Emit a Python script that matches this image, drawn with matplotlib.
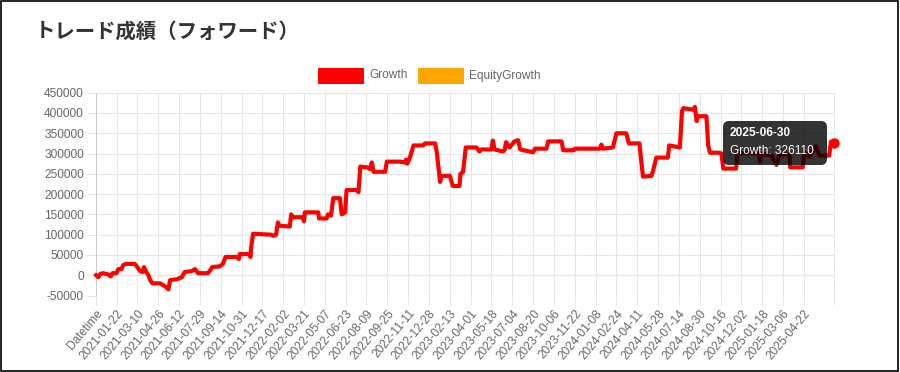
import pandas as pd
import matplotlib
matplotlib.use("Agg")
import matplotlib.pyplot as plt
from matplotlib.patches import FancyBboxPatch, Rectangle
from matplotlib.transforms import IdentityTransform

plt.rcParams['font.family'] = ['Liberation Sans', 'DejaVu Sans']

# first category slot is the csv header "Datetime", then one slot per day
first_slot = '2020-12-06'
last_slot = '2025-06-30'

tick_labels = ['Datetime', '2021-01-22', '2021-03-10', '2021-04-26', '2021-06-12',
               '2021-07-29', '2021-09-14', '2021-10-31', '2021-12-17', '2022-02-02',
               '2022-03-21', '2022-05-07', '2022-06-23', '2022-08-09', '2022-09-25',
               '2022-11-11', '2022-12-28', '2023-02-13', '2023-04-01', '2023-05-18',
               '2023-07-04', '2023-08-20', '2023-10-06', '2023-11-22', '2024-01-08',
               '2024-02-24', '2024-04-11', '2024-05-28', '2024-07-14', '2024-08-30',
               '2024-10-16', '2024-12-02', '2025-01-18', '2025-03-06', '2025-04-22']

y_ticks = [-50000, 0, 50000, 100000, 150000, 200000, 250000, 300000, 350000, 400000, 450000]

# Growth (date where the value changes, value)
growth_dates = [
    '2020-12-07', '2020-12-12', '2020-12-16', '2020-12-23', '2021-01-03', '2021-01-09',
    '2021-01-13', '2021-01-22', '2021-01-26', '2021-02-02', '2021-02-06', '2021-02-13',
    '2021-03-04', '2021-03-10', '2021-03-16', '2021-03-22', '2021-03-25', '2021-03-30',
    '2021-04-04', '2021-04-08', '2021-04-13', '2021-04-30', '2021-05-08', '2021-05-15',
    '2021-05-19', '2021-05-23', '2021-06-07', '2021-06-18', '2021-06-25', '2021-07-10',
    '2021-07-18', '2021-07-25', '2021-08-16', '2021-08-20', '2021-08-26', '2021-09-12',
    '2021-09-19', '2021-09-25', '2021-10-21', '2021-10-25', '2021-10-27', '2021-11-19',
    '2021-11-20', '2021-11-22', '2021-11-26', '2022-01-06', '2022-01-11', '2022-01-17',
    '2022-01-21', '2022-01-25', '2022-02-17', '2022-02-20', '2022-02-24', '2022-03-17',
    '2022-03-21', '2022-03-23', '2022-04-22', '2022-04-24', '2022-05-11', '2022-05-14',
    '2022-05-21', '2022-05-26', '2022-06-10', '2022-06-14', '2022-06-22', '2022-06-25',
    '2022-07-18', '2022-07-22', '2022-07-26', '2022-08-10', '2022-08-17', '2022-08-21',
    '2022-08-25', '2022-09-20', '2022-09-24', '2022-10-24', '2022-11-04', '2022-11-06',
    '2022-11-09', '2022-11-15', '2022-11-23', '2022-12-15', '2022-12-19', '2023-01-11',
    '2023-01-15', '2023-01-18', '2023-01-22', '2023-01-26', '2023-02-13', '2023-02-17',
    '2023-02-20', '2023-03-07', '2023-03-09', '2023-03-15', '2023-03-21', '2023-04-14',
    '2023-04-21', '2023-04-25', '2023-05-18', '2023-05-21', '2023-05-25', '2023-06-13',
    '2023-06-17', '2023-06-20', '2023-06-28', '2023-07-09', '2023-07-17', '2023-07-22',
    '2023-08-20', '2023-08-24', '2023-09-19', '2023-09-23', '2023-10-23', '2023-10-27',
    '2023-11-20', '2023-11-22', '2024-01-17', '2024-01-21', '2024-01-24', '2024-02-16',
    '2024-02-24', '2024-03-17', '2024-03-23', '2024-04-16', '2024-04-20', '2024-04-24',
    '2024-05-13', '2024-05-16', '2024-05-24', '2024-06-19', '2024-06-22', '2024-07-16',
    '2024-07-21', '2024-07-24', '2024-08-15', '2024-08-19', '2024-08-23', '2024-08-26',
    '2024-09-14', '2024-09-18', '2024-09-22', '2024-10-13', '2024-10-18', '2024-10-22',
    '2024-11-20', '2024-11-23', '2025-01-10', '2025-01-13', '2025-01-16', '2025-02-08',
    '2025-02-19', '2025-02-26', '2025-03-20', '2025-03-22', '2025-04-19', '2025-04-23',
    '2025-05-04', '2025-05-19', '2025-05-27', '2025-06-18', '2025-06-22', '2025-06-30']
growth_values = [
    0, -5000, 3000, 5000, 2000, -3000,
    5000, 5000, 15000, 15000, 25000, 28000,
    28000, 20000, 10000, 8000, 20000, 8000,
    0, -12000, -20000, -20000, -25000, -30000,
    -35000, -12000, -10000, -5000, 8000, 10000,
    15000, 5000, 5000, 10000, 20000, 22000,
    28000, 45000, 45000, 40000, 52000, 52000,
    45000, 70000, 102000, 100000, 97000, 100000,
    130000, 122000, 120000, 150000, 143000, 143000,
    133000, 155000, 155000, 140000, 140000, 150000,
    147000, 190000, 190000, 150000, 155000, 210000,
    210000, 205000, 268000, 266000, 262000, 278000,
    255000, 255000, 280000, 280000, 278000, 285000,
    275000, 290000, 320000, 320000, 325000, 325000,
    300000, 270000, 230000, 245000, 245000, 230000,
    220000, 220000, 250000, 255000, 315000, 315000,
    305000, 310000, 310000, 332000, 310000, 305000,
    310000, 328000, 315000, 330000, 333000, 310000,
    303000, 312000, 312000, 330000, 330000, 308000,
    308000, 312000, 312000, 322000, 312000, 315000,
    350000, 350000, 325000, 325000, 280000, 243000,
    245000, 255000, 290000, 290000, 320000, 315000,
    405000, 412000, 408000, 415000, 380000, 392000,
    392000, 320000, 302000, 302000, 300000, 263000,
    263000, 301000, 301000, 280000, 300000, 295000,
    272000, 298000, 298000, 266000, 266000, 302000,
    292000, 318000, 295000, 295000, 329000, 326110]

start = pd.Timestamp(first_slot)
gx = (pd.to_datetime(growth_dates) - start).days
end_x = (pd.Timestamp(last_slot) - start).days
tick_x = [0] + [(pd.Timestamp(t) - start).days for t in tick_labels[1:]]

grid_c = '#e6e6e6'
txt_c = '#666666'

fig = plt.figure(figsize=(9, 3.72), dpi=100)
ax = fig.add_axes([95.7 / 900, 1 - 295.5 / 372, (834.5 - 95.7) / 900, (295.5 - 92.7) / 372])

ax.plot(gx, growth_values, color='#ff0000', lw=3, solid_joinstyle='round', zorder=3, clip_on=False)
ax.plot(gx[-1:], growth_values[-1:], 'o', color='#ff0000', ms=6.5, zorder=4, clip_on=False)

ax.set_xlim(0, end_x)
ax.set_ylim(-50000, 450000)
ax.set_xticks(tick_x + [end_x])
ax.set_xticklabels(tick_labels + [''], rotation=50, ha='right', va='top',
                   rotation_mode='anchor', fontsize=8.6, color=txt_c)
ax.set_yticks(y_ticks)
ax.set_yticklabels([str(v) for v in y_ticks], fontsize=8.6, color=txt_c)
ax.tick_params(axis='both', length=6.5, width=0.7, color=grid_c, pad=2)
ax.grid(True, color=grid_c, lw=0.75, zorder=0)
ax.axhline(0, color='#c4c4c4', lw=0.75, zorder=1)
for s in ['top', 'right', 'bottom']:
    ax.spines[s].set_visible(False)
ax.spines['left'].set_color('#cccccc')
ax.spines['left'].set_linewidth(0.75)

# title
fig.text(35 / 900, 1 - 31 / 372, 'トレード成績（フォワード）', fontsize=14.7, fontweight='bold',
         color='#333333', va='center', ha='left', family=['Noto Sans CJK JP', 'DejaVu Sans'])

# legend like chart.js
px = IdentityTransform()
for bx, col, name in [(318, '#ff0000', 'Growth'), (418, '#ffa500', 'EquityGrowth')]:
    fig.patches.append(Rectangle((bx, 372 - 83), 45, 15, transform=px, facecolor=col,
                                 edgecolor=col, lw=0.7))
    fig.text((bx + 51) / 900, 1 - 75.5 / 372, name, fontsize=8.6, color=txt_c,
             va='center', ha='left')

# hover tooltip
fig.patches.append(FancyBboxPatch((723, 372 - 165), 104, 44, transform=px,
                                  boxstyle='round,pad=0,rounding_size=6',
                                  facecolor=(0, 0, 0, 0.8), edgecolor='none', zorder=5))
fig.text(730 / 900, 1 - 132.5 / 372, last_slot, fontsize=8.6, fontweight='bold',
         color='white', va='center', ha='left', zorder=6)
fig.text(730 / 900, 1 - 150.5 / 372, 'Growth: ' + str(growth_values[-1]), fontsize=8.6,
         color='white', va='center', ha='left', zorder=6)

# outer frame
fig.patches.append(Rectangle((0.5, 372 - 371), 897.5, 370, transform=px, fill=False,
                             edgecolor='black', lw=1.2, zorder=7))

fig.savefig('out.png', dpi=100)
